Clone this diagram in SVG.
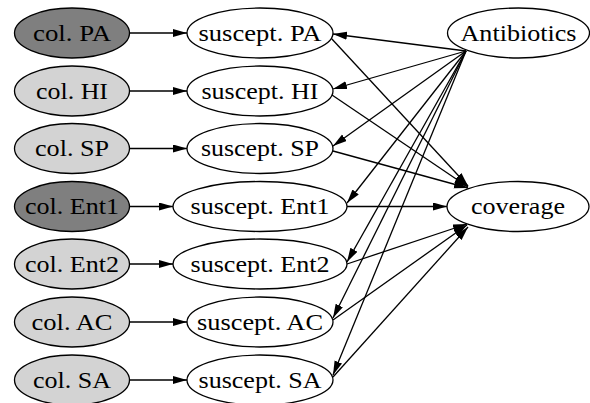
<svg xmlns="http://www.w3.org/2000/svg" width="590" height="403" viewBox="0 0 590 403">
  <style>
    .node ellipse { stroke: #000; stroke-width: 1.3; }
    .dark { fill: #7f7f7f; }
    .light { fill: #d3d3d3; }
    .plain { fill: #fff; }
    text { font-family: "Liberation Serif", "Times New Roman", serif; font-size: 24px; fill: #000; text-anchor: middle; }
    #edges line { stroke: #000; stroke-width: 1.3; fill: none; marker-end: url(#arrow); }
  </style>
  <defs>
    <marker id="arrow" markerUnits="userSpaceOnUse" markerWidth="15" markerHeight="9" refX="14" refY="4" orient="auto">
      <path d="M0,0 L14,4 L0,8 Z" fill="#000"/>
    </marker>
  </defs>
  <rect width="590" height="403" fill="#fff"/>

  <!-- connectors -->
  <g id="edges">
    <!-- colonisation -> susceptibility -->
    <line x1="130" y1="33" x2="187" y2="33"/>
    <line x1="130" y1="91" x2="187" y2="91"/>
    <line x1="130" y1="148.5" x2="187" y2="148.5"/>
    <line x1="130" y1="206.5" x2="173" y2="206.5"/>
    <line x1="130" y1="264" x2="173" y2="264"/>
    <line x1="130" y1="322" x2="187" y2="322"/>
    <line x1="130" y1="380" x2="187" y2="380"/>
    <!-- antibiotics -> susceptibility -->
    <line x1="466" y1="51" x2="333" y2="34"/>
    <line x1="466" y1="51" x2="333" y2="89"/>
    <line x1="466" y1="51" x2="333" y2="146"/>
    <line x1="466" y1="51" x2="347" y2="203"/>
    <line x1="466" y1="51" x2="347" y2="262"/>
    <line x1="466" y1="51" x2="333" y2="318"/>
    <line x1="466" y1="51" x2="333" y2="375"/>
    <!-- susceptibility -> coverage -->
    <line x1="331" y1="38" x2="468" y2="186"/>
    <line x1="332" y1="95" x2="468" y2="187"/>
    <line x1="333" y1="151" x2="468" y2="188"/>
    <line x1="347" y1="206.5" x2="447" y2="206.5"/>
    <line x1="347" y1="264" x2="467" y2="224"/>
    <line x1="333" y1="320" x2="467" y2="225"/>
    <line x1="333" y1="377" x2="468" y2="227"/>
  </g>

  <!-- colonisation nodes -->
  <g id="colPA" class="node"><ellipse class="dark" cx="72" cy="33" rx="57.5" ry="25"/><text x="72" y="40.5" textLength="78" lengthAdjust="spacingAndGlyphs">col. PA</text></g>
  <g id="colHI" class="node"><ellipse class="light" cx="72" cy="91" rx="57.5" ry="25"/><text x="72" y="98.5" textLength="72" lengthAdjust="spacingAndGlyphs">col. HI</text></g>
  <g id="colSP" class="node"><ellipse class="light" cx="72" cy="148.5" rx="57.5" ry="25"/><text x="72" y="156" textLength="74" lengthAdjust="spacingAndGlyphs">col. SP</text></g>
  <g id="colEnt1" class="node"><ellipse class="dark" cx="72" cy="206.5" rx="57.5" ry="25"/><text x="72" y="214" textLength="94" lengthAdjust="spacingAndGlyphs">col. Ent1</text></g>
  <g id="colEnt2" class="node"><ellipse class="light" cx="72" cy="264" rx="57.5" ry="25"/><text x="72" y="271.5" textLength="94" lengthAdjust="spacingAndGlyphs">col. Ent2</text></g>
  <g id="colAC" class="node"><ellipse class="light" cx="72" cy="322" rx="57.5" ry="25"/><text x="72" y="329.5" textLength="81" lengthAdjust="spacingAndGlyphs">col. AC</text></g>
  <g id="colSA" class="node"><ellipse class="light" cx="72" cy="380" rx="57.5" ry="25"/><text x="72" y="387.5" textLength="78" lengthAdjust="spacingAndGlyphs">col. SA</text></g>

  <!-- susceptibility nodes -->
  <g id="susPA" class="node"><ellipse class="plain" cx="260" cy="33" rx="73" ry="25"/><text x="260" y="40.5" textLength="123" lengthAdjust="spacingAndGlyphs">suscept. PA</text></g>
  <g id="susHI" class="node"><ellipse class="plain" cx="260" cy="91" rx="73" ry="25"/><text x="260" y="98.5" textLength="117" lengthAdjust="spacingAndGlyphs">suscept. HI</text></g>
  <g id="susSP" class="node"><ellipse class="plain" cx="260" cy="148.5" rx="73" ry="25"/><text x="260" y="156" textLength="118" lengthAdjust="spacingAndGlyphs">suscept. SP</text></g>
  <g id="susEnt1" class="node"><ellipse class="plain" cx="260" cy="206.5" rx="87" ry="25"/><text x="260" y="214" textLength="139" lengthAdjust="spacingAndGlyphs">suscept. Ent1</text></g>
  <g id="susEnt2" class="node"><ellipse class="plain" cx="260" cy="264" rx="87" ry="25"/><text x="260" y="271.5" textLength="139" lengthAdjust="spacingAndGlyphs">suscept. Ent2</text></g>
  <g id="susAC" class="node"><ellipse class="plain" cx="260" cy="322" rx="73" ry="25"/><text x="260" y="329.5" textLength="126" lengthAdjust="spacingAndGlyphs">suscept. AC</text></g>
  <g id="susSA" class="node"><ellipse class="plain" cx="260" cy="380" rx="73" ry="25"/><text x="260" y="387.5" textLength="123" lengthAdjust="spacingAndGlyphs">suscept. SA</text></g>

  <!-- right-hand nodes -->
  <g id="antibiotics" class="node"><ellipse class="plain" cx="518.5" cy="33" rx="71" ry="25"/><text x="518.5" y="40.5" textLength="116" lengthAdjust="spacingAndGlyphs">Antibiotics</text></g>
  <g id="coverage" class="node"><ellipse class="plain" cx="518" cy="206.5" rx="71" ry="25"/><text x="518" y="214" textLength="94" lengthAdjust="spacingAndGlyphs">coverage</text></g>
</svg>
